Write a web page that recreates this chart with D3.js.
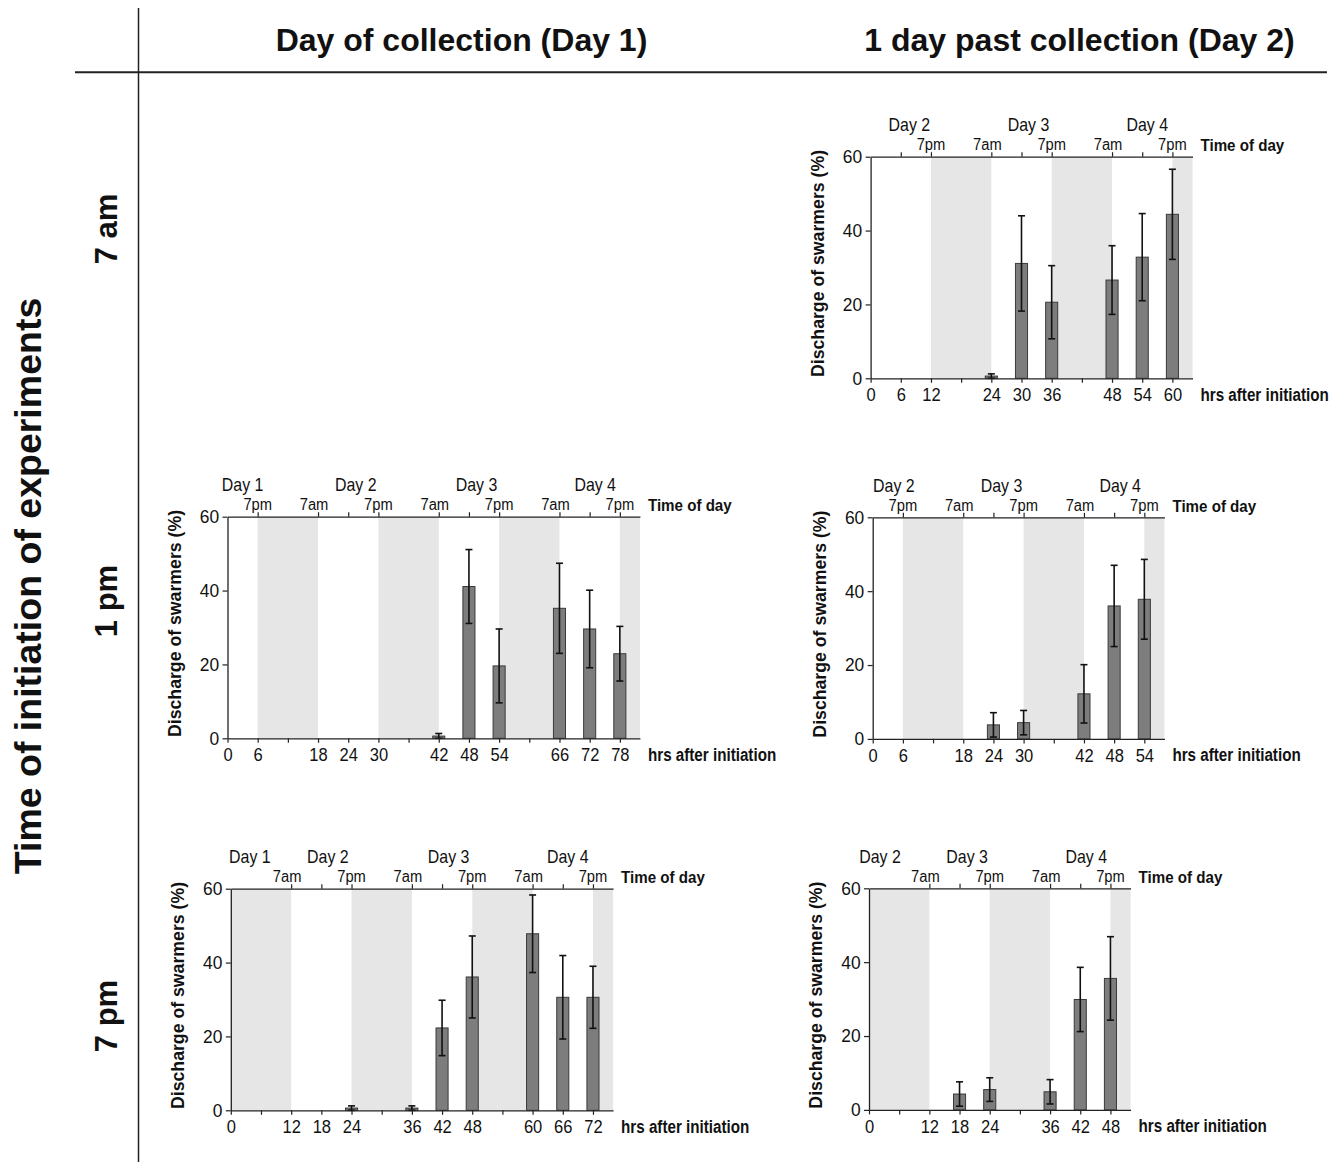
<!DOCTYPE html>
<html>
<head>
<meta charset="utf-8">
<script src="https://cdn.jsdelivr.net/npm/d3@7"></script>
<style>
  body { margin: 0; background: #fff; }
  text { font-family: "Liberation Sans", Arial, sans-serif; fill: #111; }
</style>
</head>
<body>
<svg id="fig" width="1341" height="1162"></svg>
<script>
// ---- data: hours after initiation, mean discharge (%), error (+/-) ----
// 7 am start, 1 day past collection
var hrs7amD2  = [24, 30, 36, 48, 54, 60];
var mean7amD2 = [0.6, 31.1, 20.6, 26.6, 32.8, 44.4];
var err7amD2  = [0.6, 12.9, 9.9, 9.3, 11.8, 12.2];
// 1 pm start, day of collection
var hrs1pmD1  = [42, 48, 54, 66, 72, 78];
var mean1pmD1 = [0.6, 41.1, 19.6, 35.2, 29.6, 22.9];
var err1pmD1  = [0.7, 10.0, 10.0, 12.2, 10.5, 7.4];
// 1 pm start, 1 day past collection
var hrs1pmD2  = [24, 30, 42, 48, 54];
var mean1pmD2 = [3.8, 4.4, 12.2, 36.0, 37.8];
var err1pmD2  = [3.3, 3.3, 7.9, 11.0, 10.8];
// 7 pm start, day of collection
var hrs7pmD1  = [24, 36, 42, 48, 60, 66, 72];
var mean7pmD1 = [0.6, 0.6, 22.3, 36.1, 47.8, 30.6, 30.6];
var err7pmD1  = [0.6, 0.6, 7.5, 11.1, 10.5, 11.3, 8.4];
// 7 pm start, 1 day past collection
var hrs7pmD2  = [18, 24, 36, 42, 48];
var mean7pmD2 = [4.3, 5.5, 4.9, 29.9, 35.6];
var err7pmD2  = [3.3, 3.2, 3.3, 8.7, 11.3];

// ---- tick labels ----
var xLabels7amD2 = [0, 6, 12, 24, 30, 36, 48, 54, 60];
var xLabels1pmD1 = [0, 6, 18, 24, 30, 42, 48, 54, 66, 72, 78];
var xLabels1pmD2 = [0, 6, 18, 24, 30, 42, 48, 54];
var xLabels7pmD1 = [0, 12, 18, 24, 36, 42, 48, 60, 66, 72];
var xLabels7pmD2 = [0, 12, 18, 24, 36, 42, 48];

// time of day labels [hour, label]
var tod7amD2 = [[12, '7pm'], [24, '7am'], [36, '7pm'], [48, '7am'], [60, '7pm']];
var tod1pmD1 = [[6, '7pm'], [18, '7am'], [30, '7pm'], [42, '7am'], [54, '7pm'], [66, '7am'], [78, '7pm']];
var tod1pmD2 = [[6, '7pm'], [18, '7am'], [30, '7pm'], [42, '7am'], [54, '7pm']];
var tod7pmD1 = [[12, '7am'], [24, '7pm'], [36, '7am'], [48, '7pm'], [60, '7am'], [72, '7pm']];
var tod7pmD2 = [[12, '7am'], [24, '7pm'], [36, '7am'], [48, '7pm']];

// 1pm ticks on the time-of-day axis
var noon7amD2 = [6, 30, 54];
var noon1pmD1 = [24, 48, 72];
var noon1pmD2 = [24, 48];
var noon7pmD1 = [18, 42, 66];
var noon7pmD2 = [18, 42];

// day labels [hour, label]
var days7amD2 = [[7.7, 'Day 2'], [31.4, 'Day 3'], [55, 'Day 4']];
var days1pmD1 = [[3, 'Day 1'], [25.5, 'Day 2'], [49.5, 'Day 3'], [73.1, 'Day 4']];
var days1pmD2 = [[4.2, 'Day 2'], [25.6, 'Day 3'], [49.2, 'Day 4']];
var days7pmD1 = [[3.8, 'Day 1'], [19.3, 'Day 2'], [43.3, 'Day 3'], [67, 'Day 4']];
var days7pmD2 = [[2.2, 'Day 2'], [19.5, 'Day 3'], [43.2, 'Day 4']];

// dark periods (7pm - 7am)
var dark7amD2 = [[12, 24], [36, 48], [60, 64]];
var dark1pmD1 = [[6, 18], [30, 42], [54, 66], [78, 82]];
var dark1pmD2 = [[6, 18], [30, 42], [54, 58]];
var dark7pmD1 = [[0, 12], [24, 36], [48, 60], [72, 76]];
var dark7pmD2 = [[0, 12], [24, 36], [48, 52]];

var yTicks = [0, 20, 40, 60];

// ---- layout ----
var pxPerHr = 5.03, plotH = 221.6, barHrs = 2.4;

var panels = [
  {x0: 870.6, top: 156.7, hrs: hrs7amD2, mean: mean7amD2, err: err7amD2, xl: xLabels7amD2, tod: tod7amD2, noon: noon7amD2, days: days7amD2, dark: dark7amD2},
  {x0: 227.5, top: 516.7, hrs: hrs1pmD1, mean: mean1pmD1, err: err1pmD1, xl: xLabels1pmD1, tod: tod1pmD1, noon: noon1pmD1, days: days1pmD1, dark: dark1pmD1},
  {x0: 872.7, top: 517.3, hrs: hrs1pmD2, mean: mean1pmD2, err: err1pmD2, xl: xLabels1pmD2, tod: tod1pmD2, noon: noon1pmD2, days: days1pmD2, dark: dark1pmD2},
  {x0: 230.8, top: 888.7, hrs: hrs7pmD1, mean: mean7pmD1, err: err7pmD1, xl: xLabels7pmD1, tod: tod7pmD1, noon: noon7pmD1, days: days7pmD1, dark: dark7pmD1},
  {x0: 869.0, top: 888.3, hrs: hrs7pmD2, mean: mean7pmD2, err: err7pmD2, xl: xLabels7pmD2, tod: tod7pmD2, noon: noon7pmD2, days: days7pmD2, dark: dark7pmD2}
];

var svg = d3.select('#fig');

// condensed text helper
function ctext(g, x, y, txt, size, sx, weight, anchor) {
  return g.append('text')
    .attr('transform', 'translate(' + x + ',' + y + ') scale(' + sx + ',1)')
    .attr('font-size', size)
    .attr('font-weight', weight || 'normal')
    .attr('text-anchor', anchor || 'middle')
    .text(txt);
}

// ---- frame ----
svg.append('line').attr('x1', 75).attr('x2', 1327).attr('y1', 72.3).attr('y2', 72.3)
  .attr('stroke', '#222').attr('stroke-width', 2);
svg.append('line').attr('x1', 138.5).attr('x2', 138.5).attr('y1', 8).attr('y2', 1162)
  .attr('stroke', '#222').attr('stroke-width', 1.5);

svg.append('text').attr('x', 461.5).attr('y', 51).attr('text-anchor', 'middle')
  .attr('font-size', 32).attr('font-weight', 'bold').text('Day of collection (Day 1)');
svg.append('text').attr('x', 1079.5).attr('y', 51).attr('text-anchor', 'middle')
  .attr('font-size', 32).attr('font-weight', 'bold').text('1 day past collection (Day 2)');

svg.append('text').attr('transform', 'translate(41,586) rotate(-90)')
  .attr('text-anchor', 'middle').attr('font-size', 37.5).attr('font-weight', 'bold')
  .text('Time of initiation of experiments');

var rowLabels = [[229, '7 am'], [601, '1 pm'], [1016, '7 pm']];
rowLabels.forEach(function(r) {
  svg.append('text').attr('transform', 'translate(117,' + r[0] + ') rotate(-90)')
    .attr('text-anchor', 'middle').attr('font-size', 31).attr('font-weight', 'bold')
    .text(r[1]);
});

// ---- panels ----
panels.forEach(function(p) {
  var last = d3.max(p.xl);
  var dmax = last + 4;
  var x = d3.scaleLinear().domain([0, dmax]).range([p.x0, p.x0 + dmax * pxPerHr]);
  var y = d3.scaleLinear().domain([0, 60]).range([p.top + plotH, p.top]);
  var xR = x(dmax), yB = y(0);
  var g = svg.append('g');

  // dark periods
  g.selectAll('.dark').data(p.dark).enter().append('rect')
    .attr('x', function(d) { return x(d[0]); })
    .attr('width', function(d) { return x(d[1]) - x(d[0]); })
    .attr('y', y(60)).attr('height', y(0) - y(60))
    .attr('fill', '#e6e6e6');

  var rows = p.hrs.map(function(h, i) { return {h: h, m: p.mean[i], e: p.err[i]}; });

  // bars
  g.selectAll('.bar').data(rows).enter().append('rect')
    .attr('x', function(d) { return x(d.h - barHrs / 2); })
    .attr('width', function(d) { return x(d.h + barHrs / 2) - x(d.h - barHrs / 2); })
    .attr('y', function(d) { return y(d.m); })
    .attr('height', function(d) { return y(0) - y(d.m); })
    .attr('fill', '#7d7d7d').attr('stroke', '#3a3a3a').attr('stroke-width', 1);

  // error bars
  var eb = g.selectAll('.eb').data(rows).enter().append('g')
    .attr('stroke', '#111').attr('stroke-width', 1.6);
  eb.append('line')
    .attr('x1', function(d) { return x(d.h); }).attr('x2', function(d) { return x(d.h); })
    .attr('y1', function(d) { return y(Math.max(0, d.m - d.e)); })
    .attr('y2', function(d) { return y(d.m + d.e); });
  eb.append('line')
    .attr('x1', function(d) { return x(d.h) - 3.5; }).attr('x2', function(d) { return x(d.h) + 3.5; })
    .attr('y1', function(d) { return y(d.m + d.e); }).attr('y2', function(d) { return y(d.m + d.e); });
  eb.append('line')
    .attr('x1', function(d) { return x(d.h) - 3.5; }).attr('x2', function(d) { return x(d.h) + 3.5; })
    .attr('y1', function(d) { return y(Math.max(0, d.m - d.e)); })
    .attr('y2', function(d) { return y(Math.max(0, d.m - d.e)); });

  // bottom axis
  var gx = g.append('g').attr('transform', 'translate(0,' + yB + ')')
    .call(d3.axisBottom(x).tickValues(d3.range(0, last + 1, 6)).tickSize(4.5).tickSizeOuter(0).tickPadding(5)
      .tickFormat(function(d) { return p.xl.indexOf(d) >= 0 ? d : ''; }));
  gx.selectAll('text').attr('font-size', 19).attr('font-family', null).attr('transform', 'scale(0.87,1)');

  // top (time of day) axis
  var topVals = p.tod.map(function(d) { return d[0]; }).concat(p.noon);
  g.append('g').attr('transform', 'translate(0,' + y(60) + ')')
    .call(d3.axisTop(x).tickValues(topVals).tickSize(4.5).tickSizeOuter(0).tickFormat(''));

  // y axis
  var gy = g.append('g').attr('transform', 'translate(' + p.x0 + ',0)')
    .call(d3.axisLeft(y).tickValues(yTicks).tickSize(5).tickSizeOuter(0).tickPadding(4));
  gy.selectAll('text').attr('font-size', 18.5).attr('font-family', null).attr('transform', 'scale(0.94,1)');

  g.selectAll('.domain').attr('stroke', '#222').attr('stroke-width', 1.3);
  g.selectAll('.tick line').attr('stroke', '#222').attr('stroke-width', 1.2);

  // time-of-day labels
  p.tod.forEach(function(t) {
    ctext(g, x(t[0]) + (t[1] === '7am' ? -4 : 0), y(60) - 6.6, t[1], 16, 0.92);
  });
  p.days.forEach(function(t) {
    ctext(g, x(t[0]), y(60) - 25.6, t[1], 17.5, 0.91);
  });
  ctext(g, xR + 8, y(60) - 5.5, 'Time of day', 17, 0.89, 'bold', 'start');
  ctext(g, xR + 8, yB + 22.5, 'hrs after initiation', 19, 0.8, 'bold', 'start');

  // y label
  g.append('text')
    .attr('transform', 'translate(' + (p.x0 - 47) + ',' + ((y(0) + y(60)) / 2 - 4) + ') rotate(-90)')
    .attr('text-anchor', 'middle').attr('font-size', 17.7).attr('font-weight', 'bold')
    .text('Discharge of swarmers (%)');
});
</script>
</body>
</html>
